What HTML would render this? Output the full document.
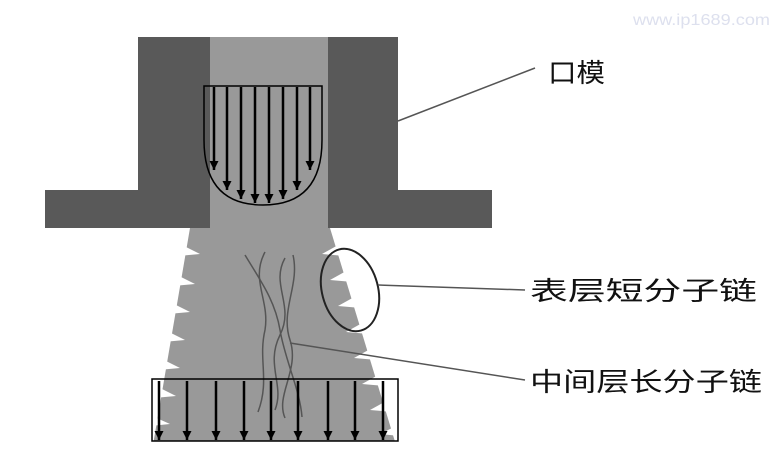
<!DOCTYPE html>
<html><head><meta charset="utf-8"><style>
html,body{margin:0;padding:0;background:#fff;}
svg{display:block}
text{font-family:"Liberation Sans","Noto Sans CJK SC",sans-serif;}
</style></head><body>
<svg width="783" height="476" viewBox="0 0 783 476" xmlns="http://www.w3.org/2000/svg">
<defs><marker id="a" markerWidth="9" markerHeight="9" refX="9" refY="4.5" orient="auto" markerUnits="userSpaceOnUse"><path d="M0,0 L9,4.5 L0,9 z" fill="#000"/></marker></defs>
<rect x="138" y="37" width="260" height="155" fill="#595959"/>
<rect x="45" y="190" width="447" height="38" fill="#595959"/>
<polygon points="190,228 330,228 396,445 153,445" fill="#999"/>
<rect x="210" y="37" width="118" height="191" fill="#999"/>
<g fill="#fff">
<polygon points="180,244 200,254 178,256"/>
<polygon points="175,274 195,284 173,286"/>
<polygon points="170,302 190,312 168,314"/>
<polygon points="165,330 185,340 163,342"/>
<polygon points="160,358 180,368 158,370"/>
<polygon points="156,386 176,396 154,398"/>
<polygon points="152,416 170,424 150,426"/>
<polygon points="340,244 322,254 345,256"/>
<polygon points="348,270 330,280 353,282"/>
<polygon points="356,296 338,306 361,308"/>
<polygon points="364,322 346,332 369,334"/>
<polygon points="372,348 354,358 377,360"/>
<polygon points="380,374 362,384 385,386"/>
<polygon points="388,400 370,410 393,412"/>
<polygon points="396,426 380,434 400,436"/>
<rect x="140" y="441" width="270" height="10"/>
</g>
<path d="M204,86 L322,86 L322,140 Q322,205 263,205 Q204,205 204,140 Z" fill="none" stroke="#000" stroke-width="1.5"/>
<g stroke="#000" stroke-width="2.5" marker-end="url(#a)">
<line x1="214" y1="87" x2="214" y2="170"/><line x1="227" y1="87" x2="227" y2="190"/>
<line x1="241" y1="87" x2="241" y2="199"/><line x1="255" y1="87" x2="255" y2="203"/>
<line x1="269" y1="87" x2="269" y2="203"/><line x1="283" y1="87" x2="283" y2="199"/>
<line x1="297" y1="87" x2="297" y2="190"/><line x1="310" y1="87" x2="310" y2="170"/>
</g>
<g fill="none" stroke="#555" stroke-width="1.5">
<path d="M245,255 C260,280 275,300 280,330 C285,360 300,390 302,417"/>
<path d="M265,252 C250,280 270,300 265,330 C258,360 270,380 258,412"/>
<path d="M285,258 C270,285 295,305 280,335 C265,365 285,385 275,410"/>
<path d="M293,255 C300,285 280,310 290,340 C300,370 275,395 285,418"/>
</g>
<rect x="152" y="379" width="246" height="62" fill="none" stroke="#000" stroke-width="1.5"/>
<g stroke="#000" stroke-width="2.5" marker-end="url(#a)">
<line x1="159" y1="381" x2="159" y2="440"/><line x1="187" y1="381" x2="187" y2="440"/>
<line x1="216" y1="381" x2="216" y2="440"/><line x1="244" y1="381" x2="244" y2="440"/>
<line x1="271" y1="381" x2="271" y2="440"/><line x1="298" y1="381" x2="298" y2="440"/>
<line x1="328" y1="381" x2="328" y2="440"/><line x1="355" y1="381" x2="355" y2="440"/>
<line x1="383" y1="381" x2="383" y2="440"/>
</g>
<ellipse cx="350" cy="290" rx="28" ry="42" transform="rotate(-15 350 290)" fill="none" stroke="#222" stroke-width="2"/>
<g stroke="#555" stroke-width="1.5">
<line x1="398" y1="121" x2="535" y2="68"/>
<line x1="378" y1="285" x2="525" y2="290"/>
<line x1="290" y1="343" x2="525" y2="380"/>
</g>
<text x="548" y="82" font-size="26" fill="#111" textLength="57" lengthAdjust="spacingAndGlyphs">口模</text>
<text x="530" y="300" font-size="26" fill="#111" textLength="227" lengthAdjust="spacingAndGlyphs">表层短分子链</text>
<text x="530" y="391" font-size="26" fill="#111" textLength="232" lengthAdjust="spacingAndGlyphs">中间层长分子链</text>
<text x="633" y="25" font-size="16" fill="#dde0ee" font-family="Liberation Mono,monospace" textLength="137" lengthAdjust="spacingAndGlyphs">www.ip1689.com</text>
</svg>
</body></html>
